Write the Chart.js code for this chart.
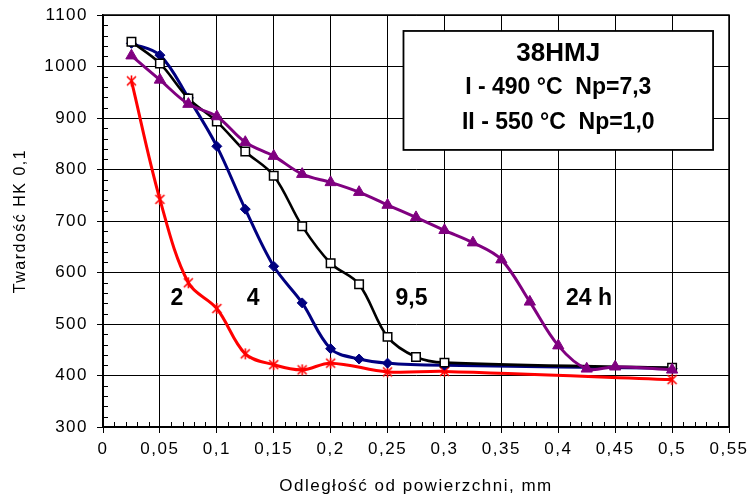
<!DOCTYPE html>
<html>
<head>
<meta charset="utf-8">
<script src="https://cdn.jsdelivr.net/npm/chart.js@4.4.1/dist/chart.umd.min.js"></script>
<style>
  html, body { margin: 0; padding: 0; background: #fff; }
  #wrap { width: 750px; height: 501px; position: relative; }
</style>
</head>
<body>
<div id="wrap"><canvas id="c" width="750" height="501"></canvas></div>
<script>
// ---- Data ----
const seriesNames = ['24 h', '9,5', '4', '2'];

const redX = [0.025, 0.05, 0.075, 0.1, 0.125, 0.15, 0.175, 0.2, 0.25, 0.3, 0.5];
const redY = [972, 742, 580, 530, 442, 421, 411, 424, 407, 408, 392];

const blueX = [0.025, 0.05, 0.075, 0.1, 0.125, 0.15, 0.175, 0.2, 0.225, 0.25, 0.3, 0.5];
const blueY = [1045, 1022, 939, 845, 723, 612, 541, 452, 432, 424, 420, 414];

const blackX = [0.025, 0.05, 0.075, 0.1, 0.125, 0.15, 0.175, 0.2, 0.225, 0.25, 0.275, 0.3, 0.5];
const blackY = [1048, 1006, 938, 893, 835, 788, 690, 618, 577, 475, 436, 425, 415];

const purpleX = [0.025, 0.05, 0.075, 0.1, 0.125, 0.15, 0.175, 0.2, 0.225, 0.25, 0.275, 0.3, 0.325, 0.35, 0.375, 0.4, 0.425, 0.45, 0.5];
const purpleY = [1021, 974, 927, 903, 853, 826, 791, 775, 756, 731, 707, 682, 658, 625, 543, 458, 413, 417, 411];

// curve labels
const curveLabelText = ['2', '4', '9,5', '24 h'];
const curveLabelX = [0.065, 0.132, 0.271, 0.427];
const curveLabelY = [550, 550, 550, 550];

// info box
const boxTitle = '38HMJ';
const boxLines = ['I - 490 °C  Np=7,3', 'II - 550 °C  Np=1,0'];
const boxXRange = [0.264, 0.536];
const boxYRange = [838, 1069];

const xTitle = 'Odległość od powierzchni, mm';
const yTitle = 'Twardość HK 0,1';

const FONT = "'Liberation Sans', Arial, sans-serif";

function toPoints(xs, ys) { return xs.map((x, i) => ({ x: x, y: ys[i] })); }

// custom marker: X with vertical bar
function starMarker() {
  const c = document.createElement('canvas');
  c.width = 13; c.height = 13;
  const g = c.getContext('2d');
  g.strokeStyle = '#ff0000'; g.lineWidth = 1.6;
  g.beginPath();
  g.moveTo(2, 2); g.lineTo(11, 11);
  g.moveTo(11, 2); g.lineTo(2, 11);
  g.moveTo(6.5, 1); g.lineTo(6.5, 12);
  g.stroke();
  return c;
}

const spacingPlugin = {
  id: 'spacing',
  beforeDraw(chart) { if ('letterSpacing' in chart.ctx) chart.ctx.letterSpacing = '1.5px'; },
  afterDraw(chart) { if ('letterSpacing' in chart.ctx) chart.ctx.letterSpacing = '0px'; }
};

const framePlugin = {
  id: 'frame',
  afterDatasetsDraw(chart) {
    const { ctx, chartArea: a, scales: { x, y } } = chart;
    ctx.save();
    if ('letterSpacing' in ctx) ctx.letterSpacing = '0px';
    // minor ticks
    ctx.strokeStyle = '#000'; ctx.lineWidth = 1;
    ctx.beginPath();
    for (let i = 0; i <= 55; i++) {
      if (i % 5 === 0) continue;
      const px = Math.round(x.getPixelForValue(i / 100)) + 0.5;
      ctx.moveTo(px, a.bottom); ctx.lineTo(px, a.bottom - 5);
    }
    for (let v = 300; v <= 1100; v += 20) {
      if (v % 100 === 0) continue;
      const py = Math.round(y.getPixelForValue(v)) + 0.5;
      ctx.moveTo(a.left, py); ctx.lineTo(a.left + 5, py);
    }
    ctx.stroke();
    // frame
    ctx.lineWidth = 1.5;
    ctx.strokeRect(a.left, a.top, a.right - a.left, a.bottom - a.top);

    // curve labels
    ctx.fillStyle = '#000';
    ctx.font = "bold 23px " + FONT;
    ctx.textAlign = 'center'; ctx.textBaseline = 'middle';
    curveLabelText.forEach((t, i) => {
      ctx.fillText(t, x.getPixelForValue(curveLabelX[i]), y.getPixelForValue(curveLabelY[i]));
    });

    // info box
    const bx0 = x.getPixelForValue(boxXRange[0]), bx1 = x.getPixelForValue(boxXRange[1]);
    const by0 = y.getPixelForValue(boxYRange[1]), by1 = y.getPixelForValue(boxYRange[0]);
    ctx.fillStyle = '#fff';
    ctx.fillRect(bx0, by0, bx1 - bx0, by1 - by0);
    ctx.strokeStyle = '#000'; ctx.lineWidth = 1.8;
    ctx.strokeRect(bx0, by0, bx1 - bx0, by1 - by0);
    const cx = (bx0 + bx1) / 2;
    ctx.fillStyle = '#000';
    ctx.font = "bold 26px " + FONT;
    ctx.fillText(boxTitle, cx, by0 + 23);
    ctx.font = "bold 23px " + FONT;
    ctx.fillText(boxLines[0], cx, by0 + 57);
    ctx.fillText(boxLines[1], cx, by0 + 92);
    ctx.restore();
  }
};

const common = { borderWidth: 3, tension: 0.35, fill: false, pointHoverRadius: 6 };

new Chart(document.getElementById('c'), {
  type: 'line',
  data: {
    datasets: [
      Object.assign({}, common, {
        label: seriesNames[0], data: toPoints(purpleX, purpleY),
        borderColor: '#800080', backgroundColor: '#800080',
        pointStyle: 'triangle', pointRadius: 6.5, pointBorderWidth: 1
      }),
      Object.assign({}, common, {
        label: seriesNames[1], data: toPoints(blackX, blackY),
        borderColor: '#000000', backgroundColor: '#ffffff', borderWidth: 2.6,
        pointStyle: 'rect', pointRadius: 6, pointBorderWidth: 1.5, pointBorderColor: '#000'
      }),
      Object.assign({}, common, {
        label: seriesNames[2], data: toPoints(blueX, blueY),
        borderColor: '#000080', backgroundColor: '#000080',
        pointStyle: 'rectRot', pointRadius: 5, pointBorderWidth: 1
      }),
      Object.assign({}, common, {
        label: seriesNames[3], data: toPoints(redX, redY),
        borderColor: '#ff0000', backgroundColor: '#ff0000',
        pointStyle: starMarker(), pointRadius: 6
      })
    ]
  },
  options: {
    responsive: false,
    animation: false,
    layout: { padding: { top: 15, right: 21, left: 0, bottom: 0 } },
    plugins: { legend: { display: false }, tooltip: { enabled: false } },
    scales: {
      x: {
        type: 'linear', min: 0, max: 0.55,
        afterFit(s) { s.height = 74; s.paddingLeft = 0; s.paddingRight = 0; },
        ticks: {
          stepSize: 0.05, color: '#000', padding: 6,
          font: { family: FONT, size: 17 },
          maxRotation: 0, autoSkip: false,
          callback: v => String(Number(v.toFixed(2))).replace('.', ',')
        },
        grid: { color: '#000', lineWidth: 1, tickLength: 6, drawTicks: true },
        border: { display: true, color: '#000', width: 1.5 },
        title: { display: true, text: xTitle, color: '#000', font: { family: FONT, size: 17 }, padding: { top: 0, bottom: 4 } }
      },
      y: {
        min: 300, max: 1100,
        afterFit(s) { s.width = 103; s.paddingTop = 0; s.paddingBottom = 0; },
        ticks: {
          stepSize: 100, color: '#000', padding: 9,
          font: { family: FONT, size: 17 },
          callback: v => String(v)
        },
        grid: { color: '#000', lineWidth: 1, tickLength: 6, drawTicks: true },
        border: { display: true, color: '#000', width: 1.5 },
        title: { display: true, text: yTitle, color: '#000', font: { family: FONT, size: 16 }, padding: { top: 11, bottom: 0 } }
      }
    }
  },
  plugins: [spacingPlugin, framePlugin]
});
</script>
</body>
</html>
